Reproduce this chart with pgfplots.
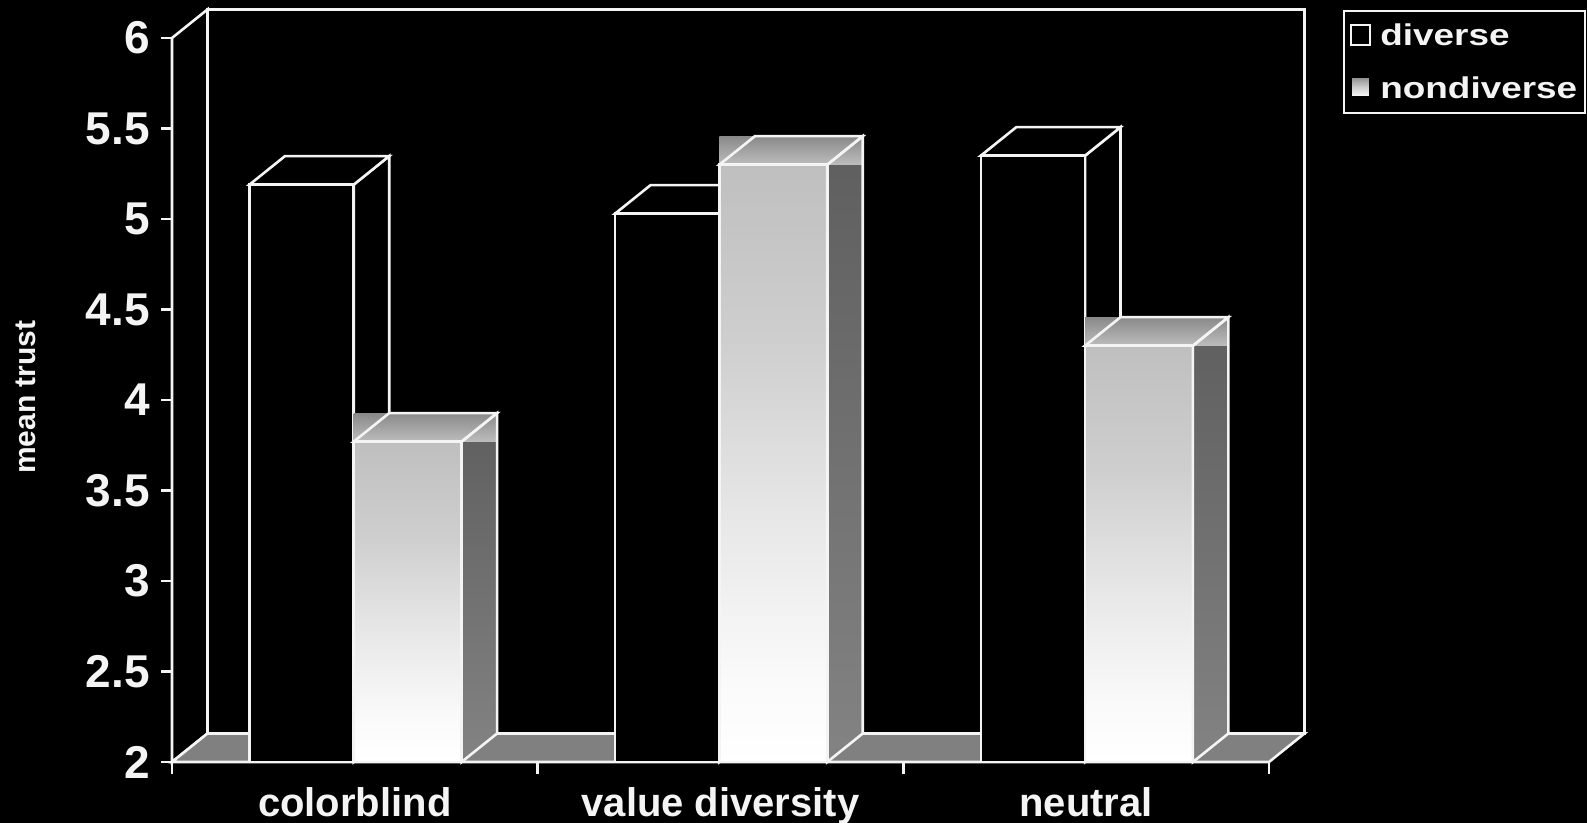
\documentclass[border=0pt]{standalone}
\usepackage{fontspec}
\setmainfont{Liberation Sans}
\usepackage{graphicx}
\usepackage{pgfplots}
\usepackage{pgfplotstable}
\pgfplotsset{compat=1.18}

\definecolor{edgewhite}{HTML}{F4F4F4}
\definecolor{floorgray}{HTML}{808080}
\definecolor{sidetop}{HTML}{5E5E5E}
\definecolor{sidebot}{HTML}{838383}
\definecolor{lidback}{HTML}{898989}
\definecolor{lidfront}{HTML}{BDBDBD}
\definecolor{fsA}{gray}{0.98}
\definecolor{fsB}{gray}{0.91}
\definecolor{fsC}{gray}{0.81}
\definecolor{fsD}{gray}{0.75}

% front face of the shaded bars: grey at the top, white at the floor
\pgfdeclareverticalshading{frontface}{100bp}{color(0bp)=(white); color(25bp)=(white); color(32bp)=(fsA); color(45bp)=(fsB); color(60bp)=(fsC); color(75bp)=(fsD); color(100bp)=(fsD)}

\pgfplotstableread{
pos diverse nondiverse
0.5 5.19 3.77
1.5 5.03 5.30
2.5 5.35 4.30
}\trustdata

% depth of the 3-D extrusion, in axis units
\def\dx{0.097}
\def\dy{0.1575}

\pgfplotsset{face/.style={forget plot, mark=none, draw=edgewhite, line width=2.6bp, line join=miter}}

\newcommand\diversebar[3]{%
  \pgfmathsetmacro\xl{#1}\pgfmathsetmacro\xr{#2}\pgfmathsetmacro\vt{#3}%
  \pgfmathsetmacro\xlb{#1+\dx}\pgfmathsetmacro\xrb{#2+\dx}%
  \pgfmathsetmacro\vtb{#3+\dy}\pgfmathsetmacro\fb{2+\dy}%
  \edef\tmp{%
    \noexpand\addplot[face, fill=black] coordinates {(\xr,2) (\xrb,\fb) (\xrb,\vtb) (\xr,\vt)} -- cycle;
    \noexpand\addplot[face, fill=black] coordinates {(\xl,\vt) (\xr,\vt) (\xrb,\vtb) (\xlb,\vtb)} -- cycle;
    \noexpand\addplot[face, fill=black] coordinates {(\xl,2) (\xr,2) (\xr,\vt) (\xl,\vt)} -- cycle;
  }\tmp}

\newcommand\nondiversebar[3]{%
  \pgfmathsetmacro\xl{#1}\pgfmathsetmacro\xr{#2}\pgfmathsetmacro\vt{#3}%
  \pgfmathsetmacro\xlb{#1+\dx}\pgfmathsetmacro\xrb{#2+\dx}%
  \pgfmathsetmacro\vtb{#3+\dy}\pgfmathsetmacro\fb{2+\dy}%
  \edef\tmp{%
    \noexpand\addplot[forget plot, mark=none, draw=none, top color=sidetop, bottom color=sidebot] coordinates {(\xr,2) (\xrb,\fb) (\xrb,\vtb) (\xr,\vt)} -- cycle;
    \noexpand\addplot[forget plot, mark=none, draw=none, top color=lidback, bottom color=lidfront] coordinates {(\xl,\vt) (\xrb,\vt) (\xrb,\vtb) (\xl,\vtb)} -- cycle;
    \noexpand\addplot[face, shading=frontface] coordinates {(\xl,2) (\xr,2) (\xr,\vt) (\xl,\vt)} -- cycle;
    \noexpand\addplot[face, fill=none] coordinates {(\xr,2) (\xrb,\fb) (\xrb,\vtb) (\xr,\vt)} -- cycle;
    \noexpand\addplot[face, fill=none] coordinates {(\xl,\vt) (\xr,\vt) (\xrb,\vtb) (\xlb,\vtb)} -- cycle;
  }\tmp}

\begin{document}
\begin{tikzpicture}
% page: 1587 x 823, axis box lower-left corner at the origin
\fill[black] (-172bp,-61bp) rectangle (1415bp,762bp);
\begin{axis}[
  at={(0bp,0bp)}, anchor=south west,
  scale only axis, width=1097bp, height=724bp,
  xmin=0, xmax=3, ymin=2, ymax=6,
  clip=false,
  axis line style={draw=none},
  tick align=outside,
  tick pos=left,
  ytick={2,2.5,...,6},
  xtick={0.5,1.5,2.5},
  xticklabels={colorblind,value diversity,neutral},
  minor xtick={0,1,2,3},
  major tick length=11bp, minor tick length=12bp,
  tick style={draw=edgewhite, line width=2.5bp},
  major x tick style={draw=none},
  /pgf/number format/assume math mode=true,
  /pgf/number format/fixed,
  yticklabel style={font=\bfseries\fontsize{46bp}{50bp}\selectfont, text=edgewhite, anchor=east, inner sep=0pt, xshift=-11bp},
  xticklabel style={font=\bfseries\fontsize{40bp}{44bp}\selectfont, text=edgewhite, anchor=base, inner sep=0pt, yshift=-43bp},
  ylabel={mean trust},
  ylabel style={font=\bfseries\fontsize{30bp}{34bp}\selectfont, text=edgewhite, at={(axis description cs:-0.1331,0.504)}, anchor=center},
  legend cell align=left,
  legend style={at={(axis description cs:1.0675,1.0385)}, anchor=north west,
    draw=edgewhite, line width=2.2bp, fill=black, text=edgewhite,
    font=\bfseries\fontsize{30bp}{33bp}\selectfont,
    inner xsep=6bp, inner ysep=11bp, row sep=25bp, nodes={inner sep=2bp},
    /tikz/every odd column/.append style={column sep=7bp}},
]
% back wall, left wall and floor
\addplot[face, fill=black] coordinates {(0.097,2.1575) (3.097,2.1575) (3.097,6.1575) (0.097,6.1575)} -- cycle;
\addplot[face, fill=black] coordinates {(0,2) (0.097,2.1575) (0.097,6.1575) (0,6)} -- cycle;
\addplot[face, fill=floorgray] coordinates {(0,2) (3,2) (3.097,2.1575) (0.097,2.1575)} -- cycle;

% the bars, left to right
\pgfplotsinvokeforeach{0,1,2}{
  \pgfplotstablegetelem{#1}{pos}\of\trustdata \let\cpos\pgfplotsretval
  \pgfplotstablegetelem{#1}{diverse}\of\trustdata \let\vdiv\pgfplotsretval
  \pgfplotstablegetelem{#1}{nondiverse}\of\trustdata \let\vnon\pgfplotsretval
  \diversebar{\cpos-0.288}{\cpos-0.003}{\vdiv}
  \nondiversebar{\cpos-0.003}{\cpos+0.292}{\vnon}
}

\addlegendimage{legend image code/.code={\draw[edgewhite, line width=1.8bp, fill=black] (1bp,-9bp) rectangle (20bp,11bp);}}
\addlegendentry{\scalebox{1.23}[1]{diverse}}
\addlegendimage{legend image code/.code={\shade[top color=white!55!black, bottom color=white, middle color=white!80!black] (1bp,-9bp) rectangle (20bp,11bp);}}
\addlegendentry{\scalebox{1.23}[1]{nondiverse}}
\end{axis}
\pgfresetboundingbox
\useasboundingbox (-172bp,-61bp) rectangle (1415bp,762bp);
\end{tikzpicture}
\end{document}
